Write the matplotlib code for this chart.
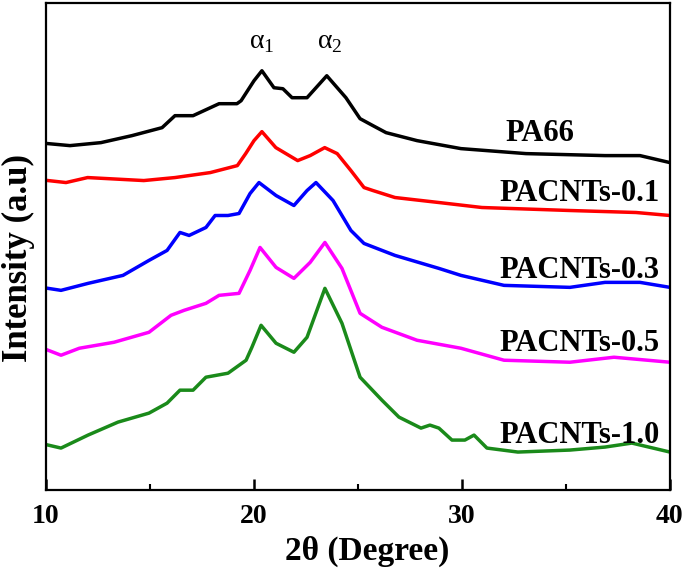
import numpy as np
import matplotlib.pyplot as plt
from matplotlib.ticker import MultipleLocator

plt.rcParams['font.family'] = ['Liberation Serif', 'DejaVu Serif']
plt.rcParams['mathtext.fontset'] = 'custom'
plt.rcParams['mathtext.rm'] = 'Liberation Serif'

# 2theta (degree) / intensity (a.u.), stacked curves
pa66_x = [10.1, 11.15, 12.64, 14.13, 15.58, 16.2, 17.07, 18.32, 19.18, 19.38, 20.0, 20.38,
          20.96, 21.39, 21.83, 22.55, 23.5, 24.42, 25.1, 25.72, 26.35, 27.84, 29.95, 33.08,
          36.88, 38.56, 40.0]
pa66_y = [347, 345, 348, 355, 363, 375, 375, 387, 387, 390, 410, 420,
          403, 402, 393, 393, 415, 393, 372, 365, 358, 350, 342, 337,
          335, 335, 328]

p01_x = [10.1, 10.96, 12.0, 14.7, 16.2, 17.9, 19.2, 19.6, 20.0, 20.38, 21.05, 22.1, 22.7,
         23.4, 24.0, 24.66, 25.29, 25.72, 26.78, 28.89, 30.96, 35.19, 38.37, 40.0]
p01_y = [310, 308, 313, 310, 313, 318, 325, 337, 350, 359, 343, 330, 335,
         343, 337, 320, 303, 300, 293, 288, 283, 280, 278, 275]

p03_x = [10.1, 10.72, 12.02, 13.7, 14.95, 15.82, 16.44, 16.88, 17.69, 18.13, 18.75, 19.28,
         19.81, 20.24, 21.06, 21.92, 22.55, 22.98, 23.8, 24.66, 25.29, 26.78, 28.89, 29.95,
         32.02, 35.19, 36.88, 38.56, 40.0]
p03_y = [202, 200, 207, 215, 230, 240, 258, 255, 263, 275, 275, 277,
         297, 308, 295, 285, 300, 308, 290, 260, 247, 235, 222, 215,
         205, 203, 208, 208, 203]

p05_x = [10.1, 10.72, 11.6, 13.27, 14.95, 16.01, 16.64, 17.69, 18.32, 19.28, 19.81, 20.29,
         21.06, 21.92, 22.7, 23.41, 24.23, 25.1, 26.15, 27.84, 29.95, 32.02, 35.19, 37.31, 40.0]
p05_y = [140, 135, 142, 148, 158, 175, 180, 187, 195, 197, 220, 243,
         223, 212, 228, 248, 222, 177, 163, 150, 142, 130, 128, 133, 128]

p10_x = [10.1, 10.72, 12.02, 13.46, 14.95, 15.82, 16.44, 17.07, 17.69, 18.75, 19.62, 19.9,
         20.34, 21.06, 21.92, 22.55, 23.41, 24.23, 25.1, 26.15, 26.97, 28.03, 28.46, 28.89,
         29.52, 30.14, 30.58, 31.2, 32.69, 35.19, 36.88, 38.17, 40.0]
p10_y = [45, 42, 55, 68, 77, 87, 100, 100, 113, 117, 130, 143,
         165, 147, 138, 153, 202, 167, 113, 90, 73, 62, 65, 62,
         50, 50, 55, 42, 38, 40, 43, 47, 38]

names = ['PA66', 'PACNTs-0.1', 'PACNTs-0.3', 'PACNTs-0.5', 'PACNTs-1.0']
colors = ['black', '#ff0000', '#0000ff', '#ff00ff', '#1a8a1a']
label_y = [357, 297, 220, 147, 55]

fig = plt.figure(figsize=(6.85, 5.77), dpi=100)
ax = fig.add_axes([0.0672, 0.1508, 0.9108, 0.8442])

curves = [(pa66_x, pa66_y), (p01_x, p01_y), (p03_x, p03_y), (p05_x, p05_y), (p10_x, p10_y)]
for (x, y), c in zip(curves, colors):
    ax.plot(x, y, color=c, lw=2.5, solid_joinstyle='round')

# PA66 sits further left than the other labels
ax.text(32.1, label_y[0], names[0], ha='left', va='center', fontsize=22, fontweight='bold')
for name, ly in zip(names[1:], label_y[1:]):
    ax.text(39.5, ly, name, ha='right', va='center', fontsize=22, fontweight='bold')

ax.text(20.35, 436, r'α$_\mathrm{1}$', ha='center', va='bottom', fontsize=20)
ax.text(23.65, 436, r'α$_\mathrm{2}$', ha='center', va='bottom', fontsize=20)

ax.set_xlim(10, 40)
ax.set_ylim(0, 488)
ax.set_yticks([])
ax.xaxis.set_major_locator(MultipleLocator(10))
ax.xaxis.set_minor_locator(MultipleLocator(5))
ax.tick_params(axis='x', which='major', direction='in', length=8, width=1.8,
               labelsize=20, pad=10)
ax.tick_params(axis='x', which='minor', direction='in', length=4.5, width=1.5)
for lab in ax.get_xticklabels():
    lab.set_fontweight('bold')
for s in ax.spines.values():
    s.set_linewidth(1.6)

ax.set_xlabel('2θ (Degree)', fontsize=24, fontweight='bold')
ax.set_ylabel('Intensity (a.u)', fontsize=25, fontweight='bold')
ax.xaxis.set_label_coords(0.515, -0.094)
ax.yaxis.set_label_coords(-0.018, 0.477)

plt.savefig('out.png', dpi=100)
